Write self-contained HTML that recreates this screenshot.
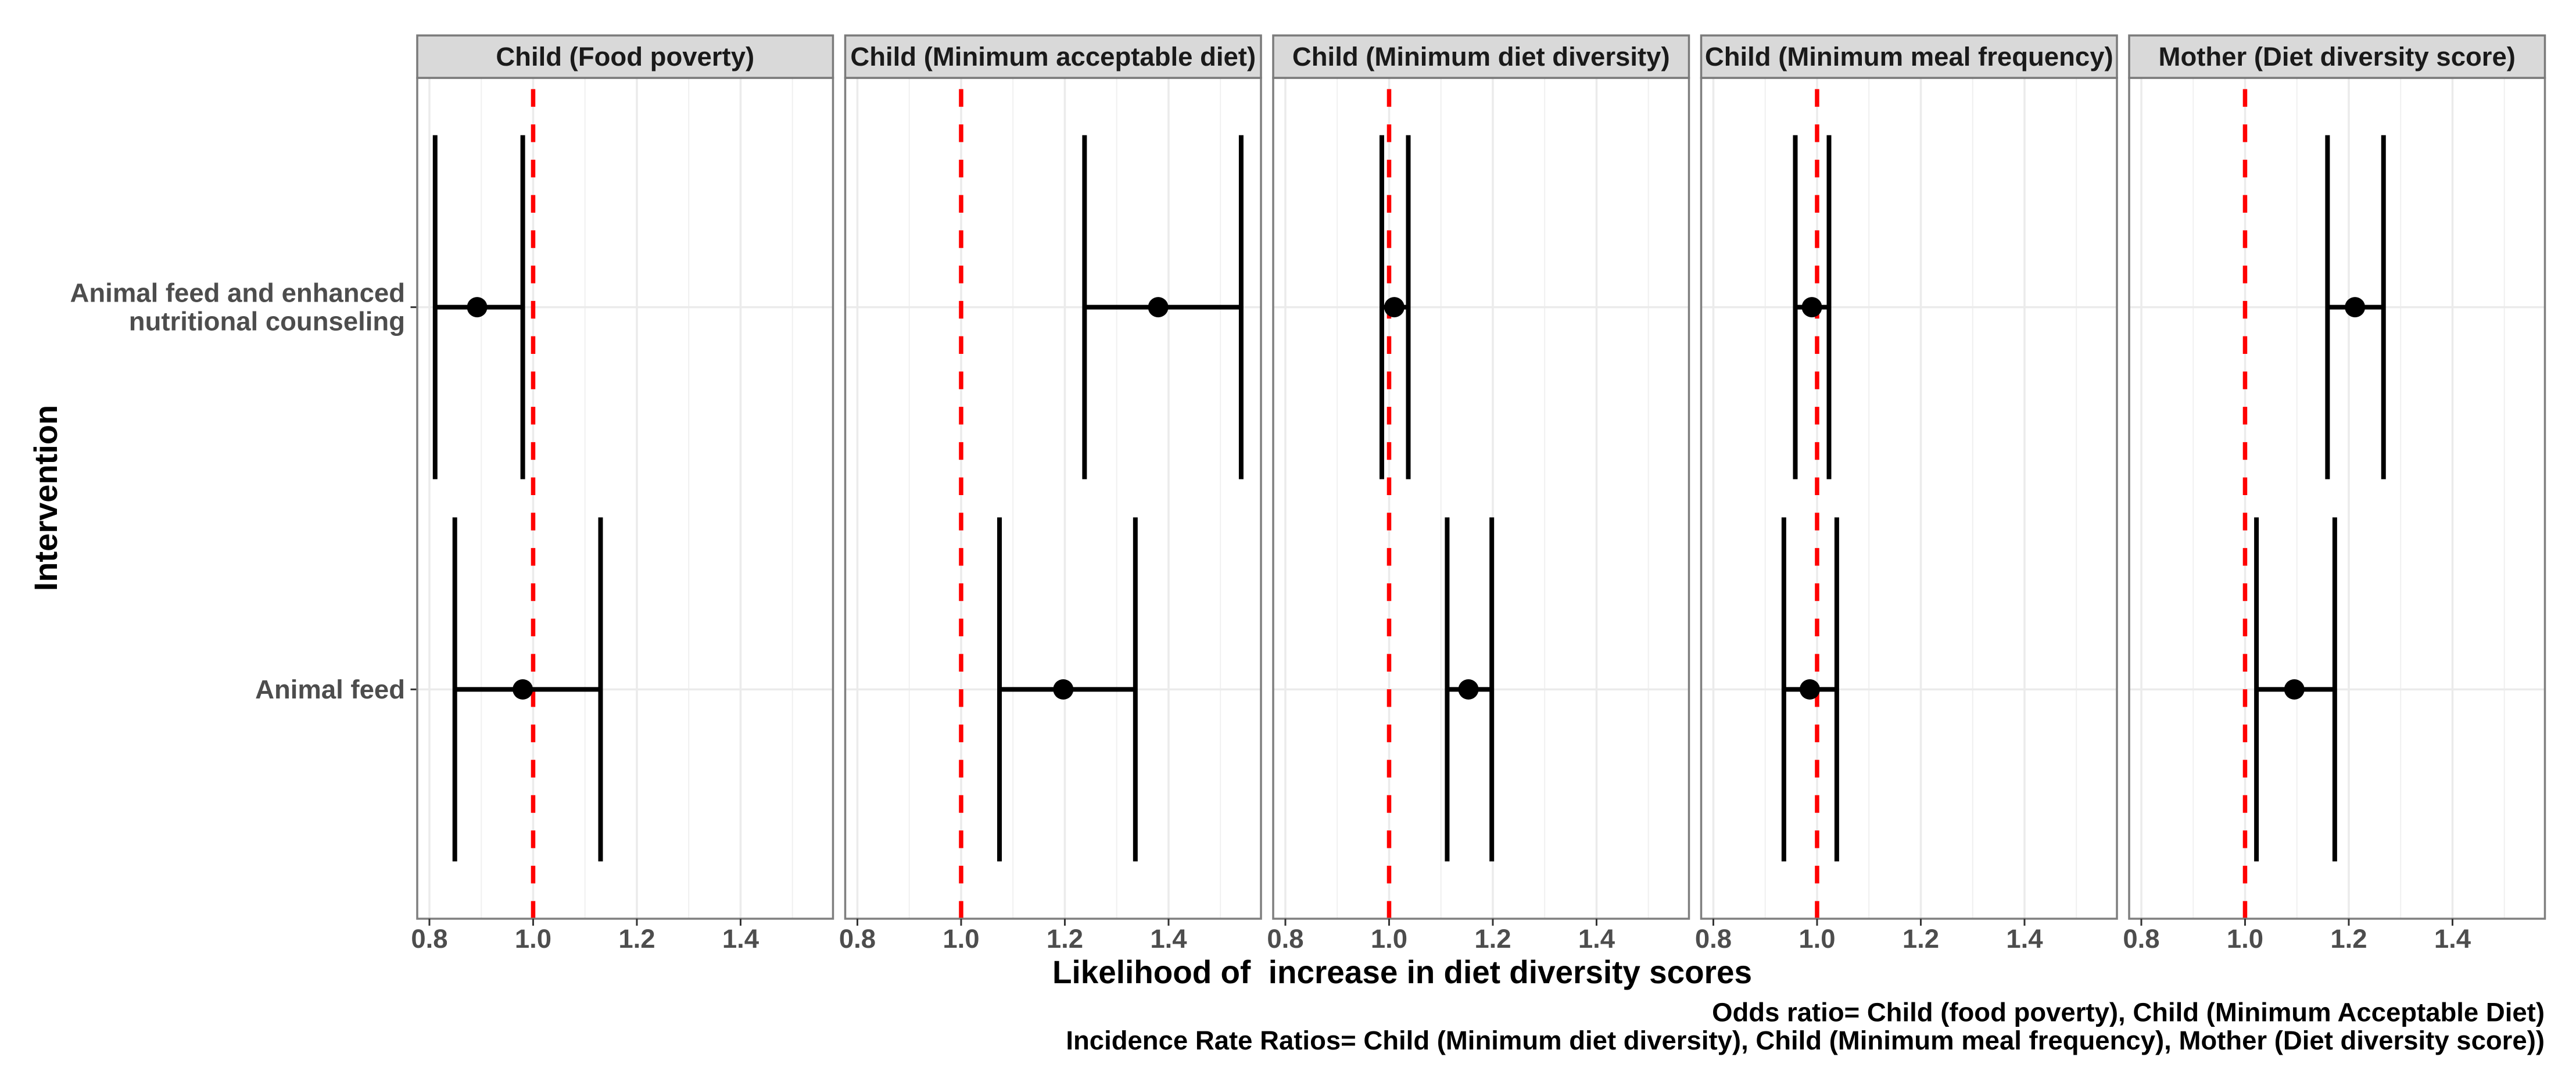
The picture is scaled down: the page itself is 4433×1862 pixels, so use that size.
<!DOCTYPE html>
<html lang="en">
<head>
<meta charset="utf-8">
<title>Likelihood of increase in diet diversity scores</title>
<style>
html,body{margin:0;padding:0;background:#fff;width:4433px;height:1862px;overflow:hidden}
svg{display:block;font-family:"Liberation Sans",Arial,sans-serif;font-weight:700}
</style>
</head>
<body>
<svg id="chart" xmlns="http://www.w3.org/2000/svg" width="4433" height="1862" viewBox="0 0 4433 1862">
  <rect x="0" y="0" width="4433" height="1862" fill="#ffffff"/>
  <g id="panels"></g>
  <text x="1811" y="1692" font-size="56" text-anchor="start" textLength="1204" lengthAdjust="spacingAndGlyphs" fill="#000" xml:space="preserve" style="white-space:pre">Likelihood of  increase in diet diversity scores</text>
  <text transform="translate(98,857) rotate(-90)" font-size="56" text-anchor="middle" fill="#000">Intervention</text>
  <text x="4379" y="1757.5" font-size="45.5" text-anchor="end" fill="#000">Odds ratio= Child (food poverty), Child (Minimum Acceptable Diet)</text>
  <text x="4379" y="1806" font-size="45.5" text-anchor="end" fill="#000">Incidence Rate Ratios= Child (Minimum diet diversity), Child (Minimum meal frequency), Mother (Diet diversity score))</text>
</svg>
<script>
const panelTitles = ["Child (Food poverty)", "Child (Minimum acceptable diet)", "Child (Minimum diet diversity)", "Child (Minimum meal frequency)", "Mother (Diet diversity score)"];
const categories = ["Animal feed and enhanced\nnutritional counseling", "Animal feed"];
const tickLabels = ["0.8", "1.0", "1.2", "1.4"];
const minorBreaks = [0.9, 1.1, 1.3, 1.5];
const referenceValue = 1.0;
const combinedEstimate = [0.892, 1.38, 1.01, 0.99, 1.212];
const combinedLower = [0.811, 1.238, 0.986, 0.958, 1.159];
const combinedUpper = [0.98, 1.54, 1.037, 1.023, 1.267];
const feedEstimate = [0.98, 1.197, 1.153, 0.986, 1.095];
const feedLower = [0.849, 1.074, 1.112, 0.936, 1.022];
const feedUpper = [1.13, 1.336, 1.198, 1.038, 1.173];

const NS = "http://www.w3.org/2000/svg";
const root = document.getElementById("panels");
const plotTop = 134, plotBottom = 1581, panelW = 715.5, panelPitch = 736.5, firstLeft = 718;
const stripTop = 61, xMin = 0.7765, xMax = 1.5782;

function panelLeft(p) { return firstLeft + p * panelPitch; }
function xScale(p, v) { return panelLeft(p) + (v - xMin) / (xMax - xMin) * panelW; }
function yScale(r) { return plotTop + (0.6 + r) * (plotBottom - plotTop) / 2.2; }
function barHalf() { return 0.45 * (plotBottom - plotTop) / 2.2; }

function mk(tag, attrs, parent) {
  const el = document.createElementNS(NS, tag);
  for (const k in attrs) el.setAttribute(k, attrs[k]);
  parent.appendChild(el);
  return el;
}
let el;

categories.forEach(function (cat, r) {
  const y = yScale(r);
  const lines = cat.split("\n");
  lines.forEach(function (line, i) {
    const base = y + 15.5 + (i - (lines.length - 1) / 2) * 49;
    el = mk("text", {x: 697, y: base, "font-size": 45.5, "text-anchor": "end", fill: "#4d4d4d"}, root);
    el.textContent = line;
    
    
  });
  el = mk("line", {x1: 706.5, x2: 717, y1: y, y2: y, stroke: "#333", "stroke-width": 3}, root);
  
  
});

panelTitles.forEach(function (title, p) {
  const L = panelLeft(p);
  const g = mk("g", {}, root);
  
  

  el = mk("rect", {x: L, y: plotTop, width: panelW, height: plotBottom - plotTop, fill: "#fff"}, g);
  
  

  minorBreaks.forEach(function (v) {
    const x = xScale(p, v);
    el = mk("line", {x1: x, x2: x, y1: plotTop, y2: plotBottom, stroke: "#f0f0f0", "stroke-width": 2}, g);
    
    
  });
  tickLabels.forEach(function (lab) {
    const x = xScale(p, Number(lab));
    el = mk("line", {x1: x, x2: x, y1: plotTop, y2: plotBottom, stroke: "#ebebeb", "stroke-width": 3.5}, g);
    
    
  });
  categories.forEach(function (cat, r) {
    el = mk("line", {x1: L, x2: L + panelW, y1: yScale(r), y2: yScale(r), stroke: "#ebebeb", "stroke-width": 3.5}, g);
    
    
  });

  const rx = xScale(p, referenceValue);
  el = mk("line", {x1: rx, x2: rx, y1: plotBottom, y2: plotTop, stroke: "#ff0000", "stroke-width": 7.5, "stroke-dasharray": "30.4 30.35"}, g);
  
  

  const series = [
    [combinedEstimate, combinedLower, combinedUpper],
    [feedEstimate, feedLower, feedUpper]
  ];
  series.forEach(function (s, r) {
    const y = yScale(r), h = barHalf();
    const lo = xScale(p, s[1][p]), hi = xScale(p, s[2][p]), mid = xScale(p, s[0][p]);
    el = mk("line", {x1: lo, x2: hi, y1: y, y2: y, stroke: "#000", "stroke-width": 8}, g);
    
    
    el = mk("line", {x1: lo, x2: lo, y1: y - h, y2: y + h, stroke: "#000", "stroke-width": 8}, g);
    
    
    el = mk("line", {x1: hi, x2: hi, y1: y - h, y2: y + h, stroke: "#000", "stroke-width": 8}, g);
    
    
    el = mk("circle", {cx: mid, cy: y, r: 17.5, fill: "#000"}, g);
    
    
  });

  el = mk("rect", {x: L, y: plotTop, width: panelW, height: plotBottom - plotTop, fill: "none", stroke: "#7f7f7f", "stroke-width": 3.5}, g);
  
  

  el = mk("rect", {x: L, y: stripTop, width: panelW, height: plotTop - stripTop, fill: "#d9d9d9", stroke: "#7a7a7a", "stroke-width": 3.5}, g);
  
  

  el = mk("text", {x: L + panelW / 2, y: 113, "font-size": 45.5, "text-anchor": "middle", fill: "#1a1a1a"}, g);
  el.textContent = title;
  
  

  tickLabels.forEach(function (lab) {
    const x = xScale(p, Number(lab));
    el = mk("line", {x1: x, x2: x, y1: plotBottom, y2: plotBottom + 12, stroke: "#333", "stroke-width": 3}, g);
    
    
    el = mk("text", {x: x, y: 1631, "font-size": 45.5, "text-anchor": "middle", fill: "#4d4d4d"}, g);
    el.textContent = lab;
    
    
  });
});
</script>
</body>
</html>
